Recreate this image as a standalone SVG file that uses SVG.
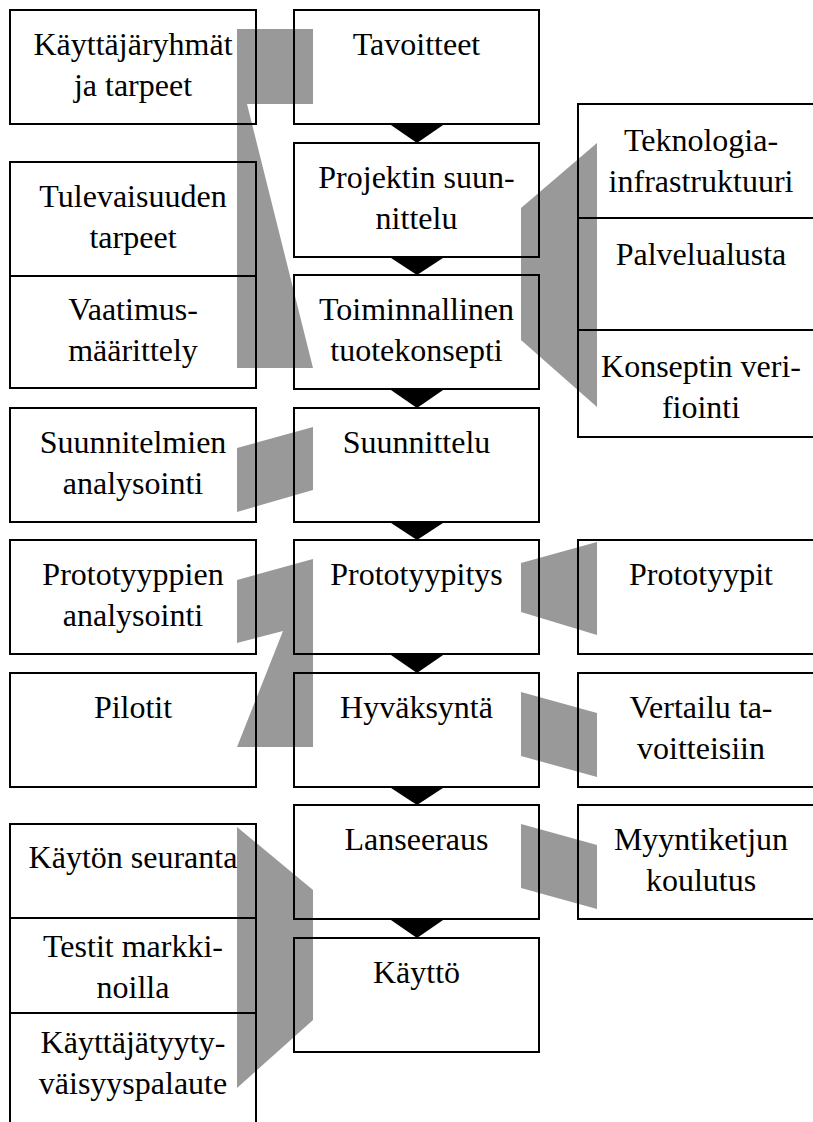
<svg xmlns="http://www.w3.org/2000/svg" width="813" height="1122" viewBox="0 0 813 1122">
  <style>
    .bg { fill: #ffffff; }
    .band { fill: #999999; stroke: none; }
    .box { fill: none; stroke: #000000; stroke-width: 2; }
    .div { stroke: #000000; stroke-width: 2; }
    .flow { fill: #000000; stroke: none; }
    .t { font-family: 'Liberation Serif', 'Times New Roman', serif; font-size: 32px; fill: #000000; text-anchor: middle; }
  </style>

  <rect class="bg" x="0" y="0" width="813" height="1122"/>

  <!-- grey links between side activities and the process steps -->
  <g id="links">
    <polygon class="band" points="237,29 313,29 313,104 247,104 313,368 237,368"/>
    <polygon class="band" points="521,208 597,143 597,407 521,340"/>
    <polygon class="band" points="237,448 313,427 313,490 237,512"/>
    <polygon class="band" points="237,580 313,559 313,747 237,747 283,631 237,643"/>
    <polygon class="band" points="521,563 597,542 597,635 521,612"/>
    <polygon class="band" points="521,692 597,713 597,777 521,756"/>
    <polygon class="band" points="521,824 597,845 597,909 521,888"/>
    <polygon class="band" points="237,827 313,890 313,1020 237,1088"/>
  </g>

  <!-- arrows between consecutive process steps -->
  <g id="connectors">
    <polygon class="flow" points="388,123 446,123 417,143"/>
    <polygon class="flow" points="388,256 446,256 417,275"/>
    <polygon class="flow" points="388,388 446,388 417,408"/>
    <polygon class="flow" points="388,521 446,521 417,540"/>
    <polygon class="flow" points="388,653 446,653 417,673"/>
    <polygon class="flow" points="388,786 446,786 417,805"/>
    <polygon class="flow" points="388,918 446,918 417,938"/>
  </g>

  <!-- main process column -->
  <g id="tavoitteet">
    <rect class="box" x="294" y="10" width="245" height="114"/>
    <text class="t" font-family="Liberation Serif" x="416.5" y="55">Tavoitteet</text>
  </g>
  <g id="projektin-suunnittelu">
    <rect class="box" x="294" y="143" width="245" height="114"/>
    <text class="t" font-family="Liberation Serif" x="416.5" y="188">Projektin suun-</text>
    <text class="t" font-family="Liberation Serif" x="416.5" y="229">nittelu</text>
  </g>
  <g id="tuotekonsepti">
    <rect class="box" x="294" y="275" width="245" height="114"/>
    <text class="t" font-family="Liberation Serif" x="416.5" y="320">Toiminnallinen</text>
    <text class="t" font-family="Liberation Serif" x="416.5" y="361">tuotekonsepti</text>
  </g>
  <g id="suunnittelu">
    <rect class="box" x="294" y="408" width="245" height="114"/>
    <text class="t" font-family="Liberation Serif" x="416.5" y="453">Suunnittelu</text>
  </g>
  <g id="prototyypitys">
    <rect class="box" x="294" y="540" width="245" height="114"/>
    <text class="t" font-family="Liberation Serif" x="416.5" y="585">Prototyypitys</text>
  </g>
  <g id="hyvaksynta">
    <rect class="box" x="294" y="673" width="245" height="114"/>
    <text class="t" font-family="Liberation Serif" x="416.5" y="718">Hyväksyntä</text>
  </g>
  <g id="lanseeraus">
    <rect class="box" x="294" y="805" width="245" height="114"/>
    <text class="t" font-family="Liberation Serif" x="416.5" y="850">Lanseeraus</text>
  </g>
  <g id="kaytto">
    <rect class="box" x="294" y="938" width="245" height="114"/>
    <text class="t" font-family="Liberation Serif" x="416.5" y="983">Käyttö</text>
  </g>

  <!-- left column -->
  <g id="kayttajaryhmat">
    <rect class="box" x="10" y="10" width="246" height="114"/>
    <text class="t" font-family="Liberation Serif" x="133" y="55">Käyttäjäryhmät</text>
    <text class="t" font-family="Liberation Serif" x="133" y="96">ja tarpeet</text>
  </g>
  <g id="vaatimukset">
    <rect class="box" x="10" y="162" width="246" height="226"/>
    <line class="div" x1="10" y1="276" x2="256" y2="276"/>
    <text class="t" font-family="Liberation Serif" x="133" y="207">Tulevaisuuden</text>
    <text class="t" font-family="Liberation Serif" x="133" y="248">tarpeet</text>
    <text class="t" font-family="Liberation Serif" x="133" y="320">Vaatimus-</text>
    <text class="t" font-family="Liberation Serif" x="133" y="361">määrittely</text>
  </g>
  <g id="suunnitelmien-analysointi">
    <rect class="box" x="10" y="408" width="246" height="114"/>
    <text class="t" font-family="Liberation Serif" x="133" y="453">Suunnitelmien</text>
    <text class="t" font-family="Liberation Serif" x="133" y="494">analysointi</text>
  </g>
  <g id="prototyyppien-analysointi">
    <rect class="box" x="10" y="540" width="246" height="114"/>
    <text class="t" font-family="Liberation Serif" x="133" y="585">Prototyyppien</text>
    <text class="t" font-family="Liberation Serif" x="133" y="626">analysointi</text>
  </g>
  <g id="pilotit">
    <rect class="box" x="10" y="673" width="246" height="114"/>
    <text class="t" font-family="Liberation Serif" x="133" y="718">Pilotit</text>
  </g>
  <g id="kayton-seuranta">
    <rect class="box" x="10" y="824" width="246" height="320"/>
    <line class="div" x1="10" y1="918" x2="256" y2="918"/>
    <line class="div" x1="10" y1="1013" x2="256" y2="1013"/>
    <text class="t" font-family="Liberation Serif" x="133" y="868">Käytön seuranta</text>
    <text class="t" font-family="Liberation Serif" x="133" y="957">Testit markki-</text>
    <text class="t" font-family="Liberation Serif" x="133" y="998">noilla</text>
    <text class="t" font-family="Liberation Serif" x="133" y="1053">Käyttäjätyyty-</text>
    <text class="t" font-family="Liberation Serif" x="133" y="1094">väisyyspalaute</text>
  </g>

  <!-- right column -->
  <g id="teknologia">
    <rect class="box" x="578" y="104" width="246" height="333"/>
    <line class="div" x1="578" y1="218" x2="824" y2="218"/>
    <line class="div" x1="578" y1="330" x2="824" y2="330"/>
    <text class="t" font-family="Liberation Serif" x="701" y="151">Teknologia-</text>
    <text class="t" font-family="Liberation Serif" x="701" y="192">infrastruktuuri</text>
    <text class="t" font-family="Liberation Serif" x="701" y="265">Palvelualusta</text>
    <text class="t" font-family="Liberation Serif" x="701" y="377">Konseptin veri-</text>
    <text class="t" font-family="Liberation Serif" x="701" y="418">fiointi</text>
  </g>
  <g id="prototyypit">
    <rect class="box" x="578" y="540" width="246" height="114"/>
    <text class="t" font-family="Liberation Serif" x="701" y="585">Prototyypit</text>
  </g>
  <g id="vertailu">
    <rect class="box" x="578" y="673" width="246" height="114"/>
    <text class="t" font-family="Liberation Serif" x="701" y="718">Vertailu ta-</text>
    <text class="t" font-family="Liberation Serif" x="701" y="759">voitteisiin</text>
  </g>
  <g id="myyntiketju">
    <rect class="box" x="578" y="805" width="246" height="114"/>
    <text class="t" font-family="Liberation Serif" x="701" y="850">Myyntiketjun</text>
    <text class="t" font-family="Liberation Serif" x="701" y="891">koulutus</text>
  </g>
</svg>
